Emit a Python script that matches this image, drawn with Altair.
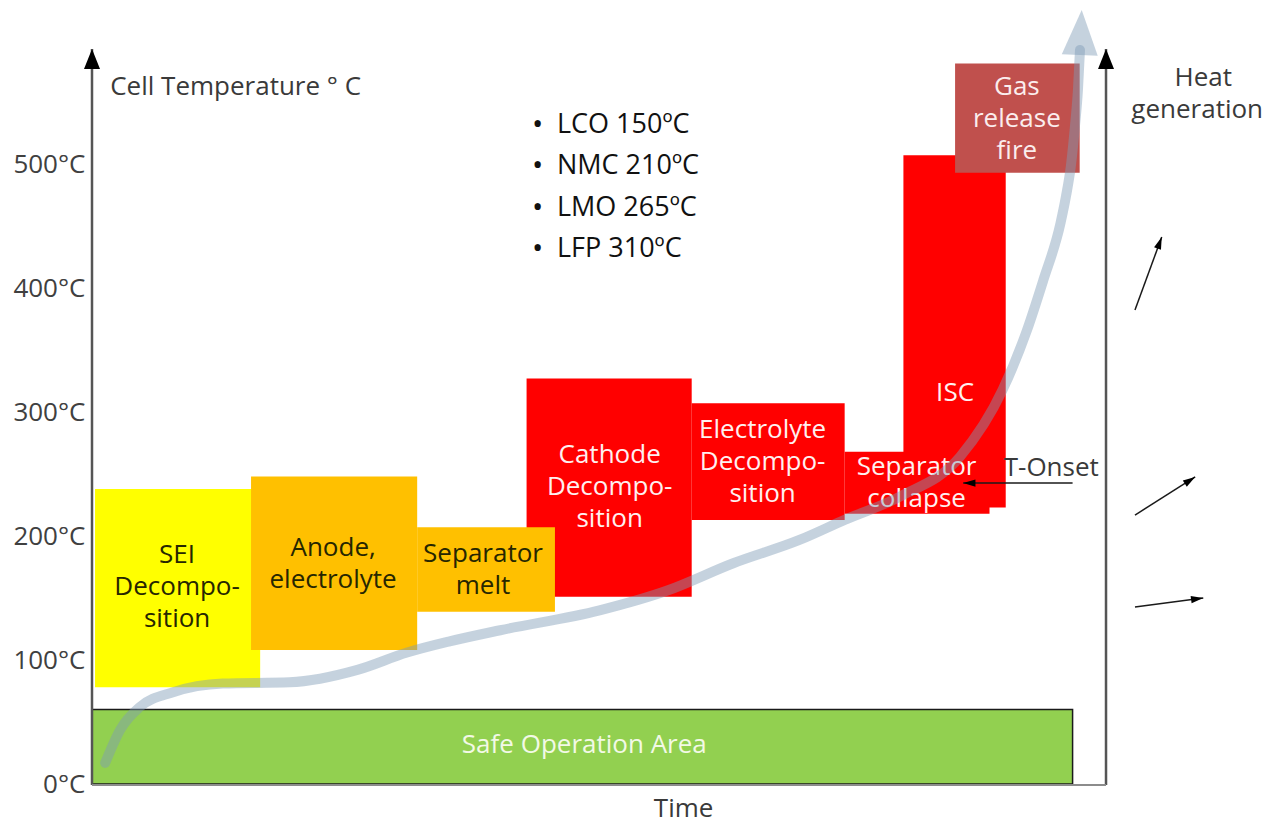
import math
import altair as alt
import pandas as pd

# ---------------- values ----------------
# Reaction stages: time span (arbitrary time units, time axis = 0..100) and temperature span (°C)
stage_labels = ["SEI\nDecompo-\nsition", "Anode,\nelectrolyte", "Cathode\nDecompo-\nsition",
                "Separator\nmelt", "Electrolyte\nDecompo-\nsition", "ISC",
                "Separator\ncollapse", "Gas\nrelease\nfire"]
stage_t_start = [0.3, 15.7, 42.9, 32.1, 59.2, 80.1, 74.3, 85.2]
stage_t_end = [16.6, 32.1, 59.2, 45.7, 74.3, 90.2, 88.6, 97.5]
stage_temp_low = [78, 108, 151, 139, 213, 223, 218, 493]
stage_temp_high = [238, 248, 327, 207, 307, 507, 268, 581]
# position of the first line of each stage label
stage_label_t = [8.4, 23.8, 51.1, 38.6, 66.2, 85.2, 81.4, 91.3]
stage_label_temp = [184.7, 190.3, 265.3, 185.5, 285.5, 315.3, 255.6, 562.1]

safe_label = ["Safe Operation Area"]
safe_t_start = [0.0]
safe_t_end = [96.8]
safe_temp_low = [0.0]
safe_temp_high = [60.0]
safe_label_t = [48.6]
safe_label_temp = [31.5]

# Cell temperature trajectory (time, °C)
curve_t = [1.3, 2.8, 4.7, 8.0, 12.9, 19.5, 26.2, 31.1, 35.3, 40.3, 50.1, 56.8,
           63.3, 69.9, 74.3, 79.8, 85.7, 89.9, 92.3, 93.9, 95.6, 96.15, 96.64, 97.04, 97.33, 97.53]
curve_temp = [17, 44, 62, 74, 81, 82, 92, 106, 115, 124, 140, 156,
              178, 197, 213, 232, 264, 318, 366, 406, 452, 474, 499, 531, 560, 592]
curve_tip_t = [97.7]
curve_tip_temp = [624.2]

temp_ticks = [0, 100, 200, 300, 400, 500]

onset_items = ["LCO 150ºC", "NMC 210ºC", "LMO 265ºC", "LFP 310ºC"]
onset_item_temp = [531.5, 498.4, 464.5, 431.5]
onset_item_t = 45.9
onset_bullet_t = 44.0

# Axes of the diagram (time units / °C)
axis_x_t = [0.0, 100.1]
axis_top_temp = 592.7
axis_bottom_temp = -0.8

# "Heat generation" arrows and T-Onset arrow: start -> tip
arrow_t0 = [102.96, 102.96, 102.96, 96.8]
arrow_temp0 = [382.3, 216.9, 142.7, 242.7]
arrow_t1 = [105.6, 108.9, 109.7, 86.0]
arrow_temp1 = [441.1, 247.6, 150.0, 242.7]

# Other text labels
text_labels = ["Cell Temperature ° C", "Time", "Heat", "generation", "T-Onset"]
text_t = [1.8, 58.4, 109.7, 109.1, 90.0]
text_temp = [562.1, -20.0, 569.4, 543.5, 254.8]
text_align = ["left", "center", "center", "center", "left"]

# ---------------- layout / style ----------------
PX_PER_T = 10.13
PX_PER_DEG = 1.24
PLOT_W = 1171
PLOT_H = 816
X_MAX = PLOT_W / PX_PER_T
Y_MAX = 776 / PX_PER_DEG
Y_MIN = -(PLOT_H - 776) / PX_PER_DEG

FONT = "Open Sans"
stage_colors = ["#FFFF00", "#FFC000", "#FF0000", "#FFC000", "#FF0000", "#FF0000", "#FF0000", "#C0504D"]
stage_text_colors = ["#262600", "#262600", "#FFF0F0", "#262600", "#FFF0F0", "#FFF0F0", "#FFF0F0", "#FBEDED"]
CURVE_COLOR = "#7F9BB5"
ARROW_PATH = "M0,0 L-0.6,2 L0.6,2 Z"
WIDE_ARROW_PATH = "M0,0 L-0.8,2 L0.8,2 Z"

xs = alt.Scale(domain=[0, X_MAX], nice=False, zero=False)
ys = alt.Scale(domain=[Y_MIN, Y_MAX], nice=False, zero=False)
y_axis = alt.Axis(values=temp_ticks, labelExpr="datum.value + '°C'", domain=False, ticks=False,
                  grid=False, title=None, labelFont=FONT, labelFontSize=26, labelColor="#404040",
                  labelPadding=7)


def X(f):
    return alt.X(f"{f}:Q", scale=xs, axis=None)


def Y(f):
    return alt.Y(f"{f}:Q", scale=ys, axis=y_axis)


def angle_of(t0, T0, t1, T1):
    dx = (t1 - t0) * PX_PER_T
    dy = (T1 - T0) * PX_PER_DEG
    return math.degrees(math.atan2(dx, dy)) % 360


stages = pd.DataFrame({
    "label": stage_labels, "t0": stage_t_start, "t1": stage_t_end,
    "lo": stage_temp_low, "hi": stage_temp_high,
    "lt": stage_label_t, "lT": stage_label_temp,
    "color": stage_colors, "tcolor": stage_text_colors,
})
safe = pd.DataFrame({"label": safe_label, "t0": safe_t_start, "t1": safe_t_end,
                     "lo": safe_temp_low, "hi": safe_temp_high,
                     "lt": safe_label_t, "lT": safe_label_temp})
curve = pd.DataFrame({"t": curve_t, "T": curve_temp})
curve_tip = pd.DataFrame({"t": curve_tip_t, "T": curve_tip_temp,
                          "angle": [angle_of(curve_t[-1], curve_temp[-1], curve_tip_t[0], curve_tip_temp[0])]})
axes_df = pd.DataFrame({"t": axis_x_t, "T0": [axis_bottom_temp] * 2, "T1": [axis_top_temp] * 2,
                        "angle": [0.0, 0.0]})
bottom_df = pd.DataFrame({"t0": [axis_x_t[0]], "t1": [axis_x_t[1]], "T": [axis_bottom_temp]})
arrows = pd.DataFrame({"t0": arrow_t0, "T0": arrow_temp0, "t1": arrow_t1, "T1": arrow_temp1})
arrows["angle"] = [angle_of(a, b, c, d) for a, b, c, d in zip(arrow_t0, arrow_temp0, arrow_t1, arrow_temp1)]
onset = pd.DataFrame({"item": onset_items, "T": onset_item_temp,
                      "t": [onset_item_t] * len(onset_items), "tb": [onset_bullet_t] * len(onset_items),
                      "bullet": ["•"] * len(onset_items)})
texts = pd.DataFrame({"label": text_labels, "t": text_t, "T": text_temp, "align": text_align})

layers = []

# Safe operation area
layers.append(alt.Chart(safe).mark_rect(color="#92D050", stroke="#1a1a1a", strokeWidth=1.5).encode(
    x=X("t0"), x2="t1", y=Y("lo"), y2="hi"))
layers.append(alt.Chart(safe).mark_text(font=FONT, fontSize=26, color="#F2F9E6").encode(
    x=X("lt"), y=Y("lT"), text="label:N"))

# Stage boxes
layers.append(alt.Chart(stages).mark_rect().encode(
    x=X("t0"), x2="t1", y=Y("lo"), y2="hi", color=alt.Color("color:N", scale=None)))

# Diagram axes
layers.append(alt.Chart(axes_df).mark_rule(color="#555555", strokeWidth=2.5).encode(
    x=X("t"), y=Y("T0"), y2="T1"))
layers.append(alt.Chart(bottom_df).mark_rule(color="#8c8c8c", strokeWidth=2).encode(
    x=X("t0"), x2="t1", y=Y("T")))
layers.append(alt.Chart(axes_df).mark_point(shape=WIDE_ARROW_PATH, filled=True, opacity=1,
                                            color="#000000", size=400, strokeWidth=0).encode(
    x=X("t"), y=Y("T1"), angle=alt.Angle("angle:Q", scale=None)))

# Stage labels
layers.append(alt.Chart(stages).mark_text(font=FONT, fontSize=26, lineBreak="\n", lineHeight=32,
                                          baseline="middle").encode(
    x=X("lt"), y=Y("lT"), text="label:N", color=alt.Color("tcolor:N", scale=None)))

# Temperature trajectory with arrow head
layers.append(alt.Chart(curve).mark_line(color=CURVE_COLOR, opacity=0.45, strokeWidth=10,
                                         strokeCap="round", interpolate="monotone").encode(
    x=X("t"), y=Y("T")))
layers.append(alt.Chart(curve_tip).mark_point(shape=WIDE_ARROW_PATH, filled=True, color=CURVE_COLOR,
                                              opacity=0.45, size=2025, strokeWidth=0).encode(
    x=X("t"), y=Y("T"), angle=alt.Angle("angle:Q", scale=None)))

# Annotation arrows
layers.append(alt.Chart(arrows).mark_rule(color="#1a1a1a", strokeWidth=1.5).encode(
    x=X("t0"), y=Y("T0"), x2="t1", y2="T1"))
layers.append(alt.Chart(arrows).mark_point(shape=ARROW_PATH, filled=True, color="#000000", opacity=1,
                                           size=150, strokeWidth=0).encode(
    x=X("t1"), y=Y("T1"), angle=alt.Angle("angle:Q", scale=None)))

# Onset temperature list
layers.append(alt.Chart(onset).mark_text(font=FONT, fontSize=27, align="left", color="#111111").encode(
    x=X("t"), y=Y("T"), text="item:N"))
layers.append(alt.Chart(onset).mark_text(font=FONT, fontSize=30, align="center", color="#111111").encode(
    x=X("tb"), y=Y("T"), text="bullet:N"))

# Other labels
for al in ["left", "center"]:
    sub = texts[texts["align"] == al]
    layers.append(alt.Chart(sub).mark_text(font=FONT, fontSize=26, align=al, color="#3a3a3a").encode(
        x=X("t"), y=Y("T"), text="label:N"))

chart = alt.layer(*layers).properties(
    width=PLOT_W, height=PLOT_H,
    padding={"left": 84, "top": 0, "right": 0, "bottom": 0},
    autosize=alt.AutoSizeParams(type="none"),
).configure(font=FONT).configure_view(stroke=None, strokeWidth=0)

chart.save("out.html", embed_options={"renderer": "svg", "actions": False})
